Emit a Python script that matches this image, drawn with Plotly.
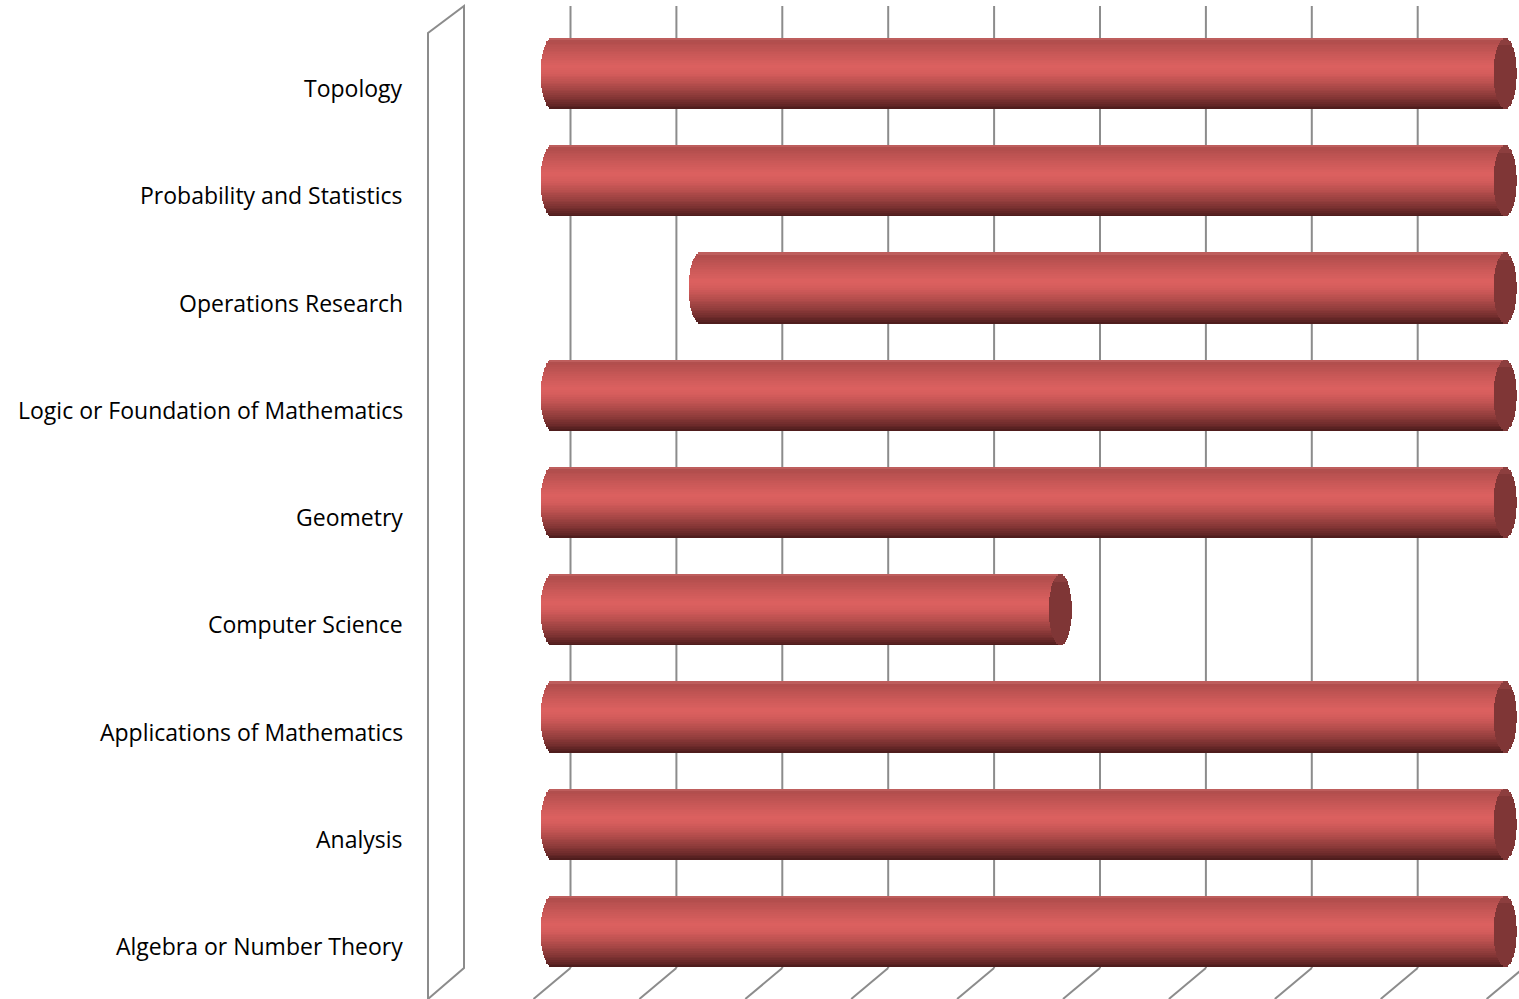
import numpy as np
import plotly.graph_objects as go

# ---------------- data ----------------
categories = [
    "Algebra or Number Theory",
    "Analysis",
    "Applications of Mathematics",
    "Computer Science",
    "Geometry",
    "Logic or Foundation of Mathematics",
    "Operations Research",
    "Probability and Statistics",
    "Topology",
]
bar_start = [0, 0, 0, 0, 0, 0, 1.4, 0, 0]
bar_end = [9, 9, 9, 4.8, 9, 9, 9, 9, 9]
tick_values = list(range(10))

# ---------------- geometry / style ----------------
W, H = 1519, 999
PX_PER_UNIT = 105.9          # pixel size of one x unit
X0_PX = 552                  # pixel of x = 0 (bar mid depth)
BAR_H = 0.662                # bar thickness in category units
CAP_A = 11.5 / PX_PER_UNIT   # half-width of the end ellipses
DEPTH = 18.5 / PX_PER_UNIT   # half depth shift of the 3D box
N_STRIPS = 40

x_range = [-X0_PX / PX_PER_UNIT, (W - X0_PX) / PX_PER_UNIT]
y_range = [(931.5 - H) / 107.25, 931.5 / 107.25]

stops = [
    (0.00, (0x4a, 0x1b, 0x1b)),
    (0.08, (0x6a, 0x29, 0x29)),
    (0.20, (0x8e, 0x3b, 0x3a)),
    (0.35, (0xb5, 0x4e, 0x4d)),
    (0.50, (0xd4, 0x5c, 0x5b)),
    (0.60, (0xdc, 0x61, 0x60)),
    (0.72, (0xcf, 0x5b, 0x5a)),
    (0.88, (0xbb, 0x52, 0x51)),
    (0.96, (0xb0, 0x4d, 0x4c)),
    (1.00, (0xc4, 0x66, 0x65)),
]


def grad(t):
    for (t0, c0), (t1, c1) in zip(stops[:-1], stops[1:]):
        if t <= t1:
            f = (t - t0) / (t1 - t0) if t1 > t0 else 0
            c = [round(a + (b - a) * f) for a, b in zip(c0, c1)]
            return "rgb(%d,%d,%d)" % tuple(c)
    return "rgb(%d,%d,%d)" % stops[-1][1]


ypos = list(range(len(categories)))
start = np.array(bar_start, dtype=float)
end = np.array(bar_end, dtype=float)

fig = go.Figure()

strip_w = BAR_H / N_STRIPS
for j in range(N_STRIPS):
    tc = (j + 0.5) / N_STRIPS            # 0 bottom -> 1 top
    tn = 2 * tc - 1                       # -1 .. 1
    s = np.sqrt(max(0.0, 1 - tn * tn))
    base = start - CAP_A * s
    fig.add_trace(go.Bar(
        orientation="h", y=ypos, x=(end - base), base=base,
        width=strip_w * 1.25, offset=-BAR_H / 2 + j * strip_w - strip_w * 0.125,
        marker=dict(color=grad(tc), line=dict(width=0)),
        hoverinfo="skip", showlegend=False,
    ))

# end caps
for j in range(N_STRIPS):
    tc = (j + 0.5) / N_STRIPS
    tn = 2 * tc - 1
    s = np.sqrt(max(0.0, 1 - tn * tn))
    cap_col = "rgb(127,54,54)" if tc < 0.9 else "rgb(140,62,62)"
    fig.add_trace(go.Bar(
        orientation="h", y=ypos, x=np.full(len(ypos), 2 * CAP_A * s), base=end - CAP_A * s,
        width=strip_w * 1.25, offset=-BAR_H / 2 + j * strip_w - strip_w * 0.125,
        marker=dict(color=cap_col, line=dict(width=0)),
        hoverinfo="skip", showlegend=False,
    ))

grid_col = "#8c8c8c"
shapes = []
y_floor_back = 1 - 968 / H
y_top = 1 - 6 / H
for k in tick_values:
    shapes.append(dict(type="line", xref="x", yref="paper",
                       x0=k + DEPTH, x1=k + DEPTH, y0=y_floor_back, y1=y_top,
                       line=dict(color=grid_col, width=2), layer="below"))
    shapes.append(dict(type="line", xref="x", yref="paper",
                       x0=k + DEPTH, x1=k - DEPTH, y0=y_floor_back, y1=0,
                       line=dict(color=grid_col, width=2), layer="below"))

# side wall
px = lambda v: v / W
py = lambda v: 1 - v / H
path = "M {} {} L {} {} L {} {} L {} {} Z".format(
    px(428), py(999), px(428), py(33), px(464), py(6), px(464), py(968))
shapes.append(dict(type="path", xref="paper", yref="paper", path=path,
                   line=dict(color=grid_col, width=2), layer="below"))

annotations = []
for i, name in enumerate(categories):
    annotations.append(dict(
        text=name, xref="paper", yref="y", x=405 / W, y=i, yshift=-14.5,
        xanchor="right", yanchor="middle", showarrow=False,
        font=dict(family="'Open Sans', 'Noto Sans', sans-serif", size=23, color="#000000"),
    ))

fig.update_layout(
    width=W, height=H,
    margin=dict(l=0, r=0, t=0, b=0),
    paper_bgcolor="white", plot_bgcolor="white",
    barmode="overlay", bargap=0,
    xaxis=dict(range=x_range, domain=[0, 1], visible=False, fixedrange=True),
    yaxis=dict(range=y_range, domain=[0, 1], visible=False, fixedrange=True),
    shapes=shapes, annotations=annotations,
    showlegend=False,
)

fig.write_html("out.html")
